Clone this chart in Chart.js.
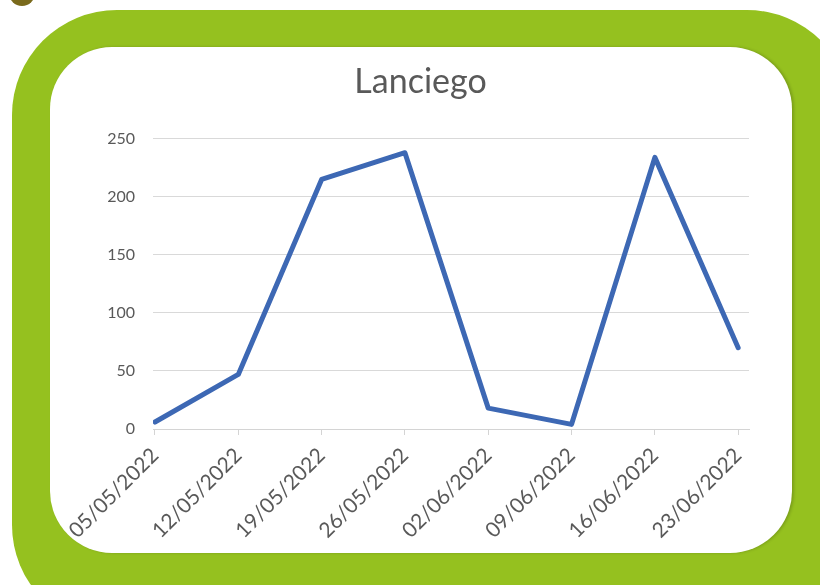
<!DOCTYPE html>
<html lang="es">
<head>
  <meta charset="UTF-8" />
  <title>Lanciego</title>
  <script src="https://cdn.jsdelivr.net/npm/chart.js@4.4.3/dist/chart.umd.js"></script>
  <style>
    *,*::before,*::after{box-sizing:border-box;margin:0;padding:0}
    html,body{width:820px;height:585px;overflow:hidden;background:#fff}
    .dot{position:absolute;left:9px;top:-20px;width:26px;height:26px;border-radius:50%;background:#7a6a1c}
    .frame{position:absolute;left:12px;top:10px;width:840px;height:620px;background:#95c11f;border-radius:105px}
    .inner{position:absolute;left:50px;top:47px;width:742px;height:506px;background:#fff;border-radius:62px;
           box-shadow:2px 0 3px rgba(0,0,0,.18)}
    #chartBox{position:absolute;left:48px;top:47px;width:745px;height:506px}
  </style>
</head>
<body>
  <div class="dot"></div>
  <div class="frame"></div>
  <div class="inner"></div>
  <div id="chartBox"><canvas id="lanciego"></canvas></div>

  <script>
    /* ==== DATA ==== */
    const fechas  = ['05/05/2022','12/05/2022','19/05/2022','26/05/2022','02/06/2022','09/06/2022','16/06/2022','23/06/2022'];
    const valores = [6, 47, 215, 238, 18, 4, 234, 70];
    const yTicks  = [0, 50, 100, 150, 200, 250];

    const GRIS = '#595959';
    const fuente = '"Lato", "Open Sans", sans-serif';

    const puntos = valores.map((v, i) => ({x: i, y: v}));

    new Chart(document.getElementById('lanciego').getContext('2d'), {
      type: 'line',
      data: {
        datasets: [{
          data: puntos,
          borderColor: '#3d68b4',
          borderWidth: 5,
          borderJoinStyle: 'round',
          borderCapStyle: 'round',
          pointRadius: 0,
          tension: 0,
          fill: false
        }]
      },
      options: {
        responsive: true,
        maintainAspectRatio: false,
        animation: false,
        layout: {padding: 0},
        plugins: {
          legend: {display: false},
          tooltip: {enabled: false},
          title: {
            display: true,
            text: 'Lanciego',
            color: GRIS,
            font: {family: fuente, size: 34, weight: 'normal'},
            padding: {top: 15, bottom: 36}
          }
        },
        scales: {
          x: {
            type: 'linear',
            min: -0.024,
            max: 7.13,
            afterFit: s => { s.height = 124; },
            border: {display: true, color: '#d4d4d4', width: 1},
            grid: {drawOnChartArea: false, drawTicks: true, tickLength: 6, color: '#d4d4d4'},
            ticks: {
              stepSize: 1,
              includeBounds: false,
              autoSkip: false,
              maxRotation: 45,
              minRotation: 45,
              color: GRIS,
              padding: 8,
              font: {family: fuente, size: 21},
              callback: v => fechas[v] ?? ''
            }
          },
          y: {
            min: yTicks[0],
            max: yTicks[yTicks.length - 1],
            afterFit: s => { s.width = 105; },
            afterBuildTicks: s => { s.ticks = yTicks.map(v => ({value: v})); },
            border: {display: false},
            grid: {color: '#d9d9d9', lineWidth: 1, drawTicks: false},
            ticks: {color: GRIS, padding: 18, font: {family: fuente, size: 16}}
          },
          // empty right-hand space so the title stays centred on the card
          derecha: {
            type: 'linear',
            position: 'right',
            afterFit: s => { s.width = 44; },
            border: {display: false},
            grid: {display: false},
            ticks: {display: false}
          }
        }
      }
    });
  </script>
</body>
</html>
